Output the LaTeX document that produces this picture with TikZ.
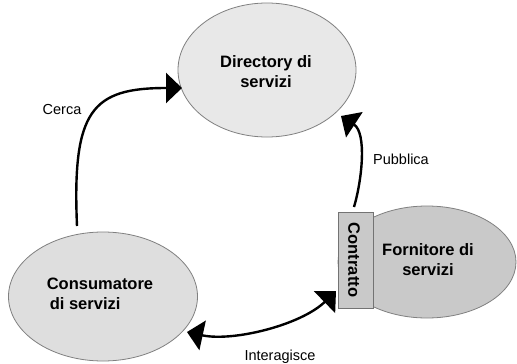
\documentclass[tikz,border=0pt]{standalone}
\usepackage{fontspec}
\setmainfont{Liberation Sans}
\usetikzlibrary{shapes.geometric,arrows.meta}
\begin{document}
\begin{tikzpicture}[x=1pt,y=-1pt,
  bubble/.style={ellipse,draw=black!50,line width=0.8pt,inner sep=0pt},
  nodetext/.style={font=\bfseries\fontsize{16.5}{20}\selectfont,align=center,text=black},
  edgelabel/.style={font=\fontsize{14.5}{17}\selectfont,text=black},
  conn/.style={line width=2.4pt,-{Triangle[length=16pt,width=30pt]}},
  conn2/.style={line width=2.4pt,{Triangle[length=16pt,width=30pt]}-{Triangle[length=16pt,width=30pt]}}]
\useasboundingbox[fill=white] (0,0) rectangle (517,364);
% nodes
\node[bubble,fill=black!9,minimum width=178pt,minimum height=134pt] (dir) at (267,70) {};
\node[nodetext] (dirt) at (266,72) {Directory di\\servizi};
\node[bubble,fill=black!13,minimum width=189pt,minimum height=129pt] (cons) at (103,296.5) {};
\node[nodetext,align=left] (const) at (100,294) {Consumatore\\\hspace*{3pt}di servizi};
\node[bubble,fill=black!21,minimum width=178pt,minimum height=112pt] (forn) at (427,262) {};
\node[nodetext] (fornt) at (428,260) {Fornitore di\\servizi};
\node[draw=black!55,line width=0.8pt,fill=black!21,minimum width=35pt,minimum height=96pt,inner sep=0pt] (contr) at (355.5,260) {};
\node[nodetext,rotate=-90] (contrt) at (354,260) {Contratto};
% connector end points
\coordinate (cs) at (77,226);
\coordinate (ce) at (182,88);
\coordinate (ps) at (354,207);
\coordinate (pe) at (341,116);
\coordinate (is) at (187,332);
\coordinate (ie) at (336,291);
% connectors
\draw[conn] (cs) .. controls (72,110) and (92,88) .. (ce);
\draw[conn] (ps) .. controls (362,180) and (367,133) .. (pe);
\draw[conn2] (is) .. controls (233,342) and (301,325) .. (ie);
% labels
\node[edgelabel] (lc) at (62,110) {Cerca};
\node[edgelabel] (lp) at (401,159) {Pubblica};
\node[edgelabel] (li) at (280,357) {Interagisce};
\end{tikzpicture}
\end{document}
